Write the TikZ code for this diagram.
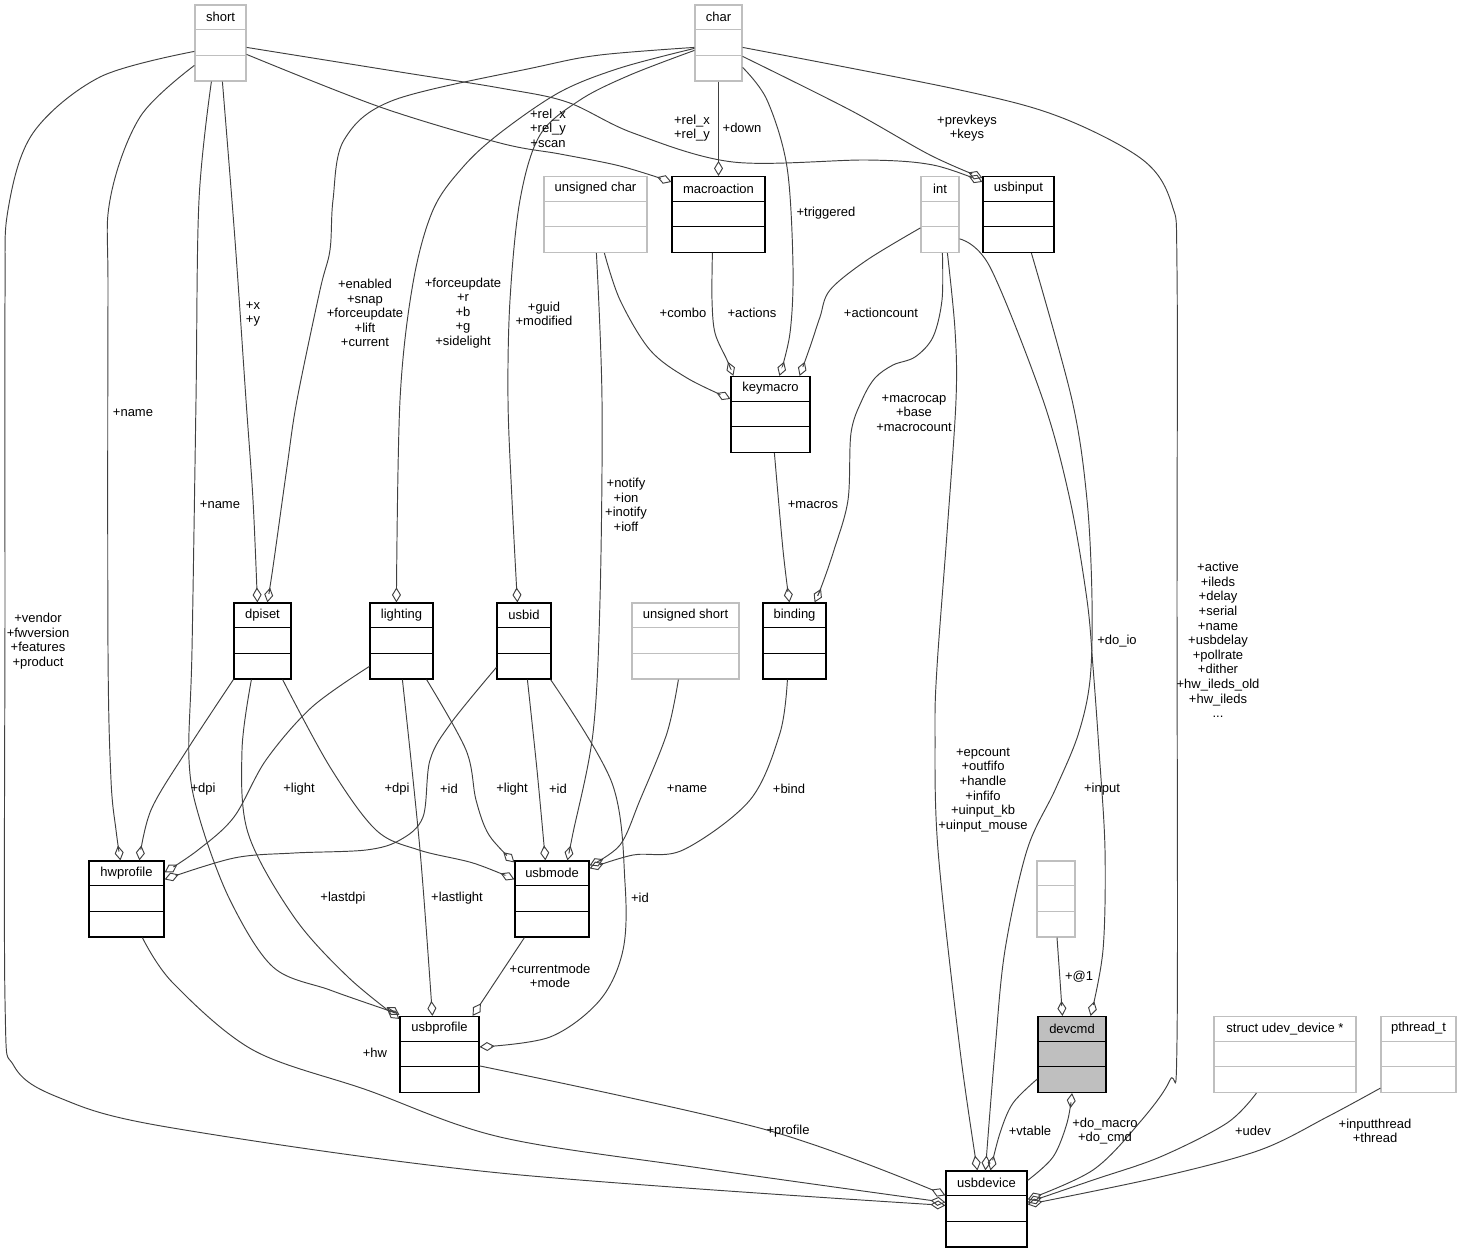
\documentclass[tikz,border=0pt]{standalone}
\usepackage{fontspec}
\setmainfont{Liberation Sans}
\usetikzlibrary{arrows.meta,calc}
\definecolor{edgec}{HTML}{404040}
\definecolor{greyb}{HTML}{BFBFBF}
\tikzset{
  bbox/.style={draw=black, line width=1.2pt, fill=white, inner sep=0pt},
  gbox/.style={draw=greyb, line width=1.2pt, fill=white, inner sep=0pt},
  dbox/.style={draw=black, line width=1.2pt, fill=greyb, inner sep=0pt},
  lbl/.style={inner sep=0pt, align=center, font=\fontsize{13}{14.6}\selectfont},
  edge/.style={draw=edgec, line width=0.95pt, -{Diamond[open, length=15pt, width=9pt]}},
}
% name, cx, cy, width, label, box style, line colour
\newcommand\umlclass[7]{%
  \node[#6, minimum width=#4, minimum height=76] (#1) at (#2,#3) {};
  \draw[#7, line width=1.2pt] ($(#1.north west)+(0,25.3)$) -- ($(#1.north east)+(0,25.3)$);
  \draw[#7, line width=1.2pt] ($(#1.north west)+(0,50.7)$) -- ($(#1.north east)+(0,50.7)$);
  \node[lbl] (#1-name) at ($(#1.north)+(0,12.7)$) {#5};
}
\begin{document}
\begin{tikzpicture}[x=1pt,y=-1pt]
\useasboundingbox (0,0) rectangle (1463,1253);
% ---------- classes ----------
\umlclass{short}{220.5}{43}{51}{short}{gbox}{greyb}
\umlclass{char}{718.5}{43}{47}{char}{gbox}{greyb}
\umlclass{uchar}{595.5}{214.5}{103}{unsigned char}{gbox}{greyb}
\umlclass{macroaction}{718.5}{214.5}{93}{macroaction}{bbox}{black}
\umlclass{int}{940}{214.5}{38}{int}{gbox}{greyb}
\umlclass{usbinput}{1018.5}{214.5}{71}{usbinput}{bbox}{black}
\umlclass{keymacro}{770.5}{414.5}{79}{keymacro}{bbox}{black}
\umlclass{dpiset}{262.5}{641}{57}{dpiset}{bbox}{black}
\umlclass{lighting}{401.5}{641}{63}{lighting}{bbox}{black}
\umlclass{usbid}{524}{641}{54}{usbid}{bbox}{black}
\umlclass{ushort}{685.5}{641}{107}{unsigned short}{gbox}{greyb}
\umlclass{binding}{794.5}{641}{63}{binding}{bbox}{black}
\umlclass{hwprofile}{126.5}{899}{75}{hwprofile}{bbox}{black}
\umlclass{usbmode}{552}{899}{74}{usbmode}{bbox}{black}
\umlclass{anon}{1056}{899}{38}{}{gbox}{greyb}
\umlclass{usbprofile}{439.5}{1054.5}{79}{usbprofile}{bbox}{black}
\umlclass{devcmd}{1072}{1054.5}{68}{devcmd}{dbox}{black}
\umlclass{udev}{1285}{1054.5}{142}{struct udev\_device *}{gbox}{greyb}
\umlclass{pthread}{1418.5}{1054.5}{75}{pthread\_t}{gbox}{greyb}
\umlclass{usbdevice}{986.5}{1209}{81}{usbdevice}{bbox}{black}
% ---------- connectors ----------
% short
\draw[edge] plot[smooth,tension=0.55] coordinates {($(short.north west)+(0,47)$) (100,77) (33,133) (8,210) (5,300) (5,600) (5,1000) (14,1066) (60,1098) (167,1127) (500,1173) ($(usbdevice.north west)+(0,35)$)};
\draw[edge] plot[smooth,tension=0.55] coordinates {($(short.north west)+(0,61)$) (140,117) (110,200) (108,300) (108,650) (111,780) (116,830) ($(hwprofile.north west)+(32,0)$)};
\draw[edge] plot[smooth,tension=0.55] coordinates {($(short.south west)+(17,0)$) (199,200) (196,400) (192,650) (189,760) (200,820) (230,900) (273,967) (330,990) (387,1010) ($(usbprofile.north west)+(0,-1)$)};
\draw[edge] plot[smooth,tension=0.55] coordinates {($(short.south west)+(28,0)$) (235,240) (246,400) (253,500) ($(dpiset.north west)+(24,0)$)};
\draw[edge] plot[smooth,tension=0.55] coordinates {($(short.north east)+(0,50)$) (380,107) (500,143) (560,154) (620,166) ($(macroaction.north west)+(0,6)$)};
\draw[edge] plot[smooth,tension=0.55] coordinates {($(short.north east)+(0,43)$) (400,72) (500,88) (567,102) (633,133) (733,162) (867,160) (933,165) ($(usbinput.north west)+(0,6)$)};
% char
\draw[edge] plot[smooth,tension=0.55] coordinates {($(char.north west)+(0,43)$) (600,55) (537,67) (394,100) (344,140) (333,200) (330,250) (320,290) (297,400) (287,467) (273,567) ($(dpiset.north west)+(34,0)$)};
\draw[edge] plot[smooth,tension=0.55] coordinates {($(char.north west)+(0,44)$) (620,68) (560,92) (500,133) (463,167) (433,210) (413,283) (400,400) ($(lighting.north west)+(27,0)$)};
\draw[edge] plot[smooth,tension=0.55] coordinates {($(char.north west)+(0,46)$) (630,75) (580,100) (540,135) (520,200) (510,300) (508,400) (512,500) ($(usbid.north west)+(21,0)$)};
\draw[edge] plot[smooth,tension=0.55] coordinates {($(char.north east)+(0,52)$) (850,110) (930,155) ($(usbinput.north west)+(0,2)$)};
\draw[edge] (char.south) -- (macroaction.north);
\draw[edge] plot[smooth,tension=0.55] coordinates {($(char.north east)+(0,63)$) (767,100) (787,167) (793,267) (790,333) ($(keymacro.north west)+(49,0)$)};
\draw[edge] plot[smooth,tension=0.55] coordinates {($(char.north east)+(0,43)$) (960,90) (1060,117) (1143,160) (1172,205) (1177,270) (1177,600) (1177,1040) (1170,1080) (1140,1122) (1093,1170) ($(usbdevice.north east)+(0,29)$)};
% int
\draw[edge] plot[smooth,tension=0.55] coordinates {($(int.north west)+(0,52)$) (867,260) (830,290) (820,317) (810,347) ($(keymacro.north east)+(-11,0)$)};
\draw[edge] plot[smooth,tension=0.55] coordinates {($(int.south west)+(22,0)$) (942,300) (933,337) (915,357) (893,365) (875,378) (862,400) (851,433) (848,500) (834,550) (822,585) ($(binding.north east)+(-12,0)$)};
\draw[edge] plot[smooth,tension=0.55] coordinates {($(int.south west)+(27,0)$) (955,330) (956,400) (947,533) (937,667) (935,733) (938,850) (960,1050) ($(usbdevice.north west)+(32,0)$)};
\draw[edge] plot[smooth,tension=0.55] coordinates {($(int.north east)+(0,63)$) (990,267) (1043,400) (1070,500) (1087,600) (1093,667) (1099,750) (1105,850) (1103,950) ($(devcmd.north east)+(-16,0)$)};
% usbinput
\draw[edge] plot[smooth,tension=0.55] coordinates {($(usbinput.south west)+(49,0)$) (1072,400) (1087,500) (1092,600) (1090,680) (1078,735) (1055,790) (1027,850) (1005,950) (995,1050) ($(usbdevice.north west)+(40,0)$)};
% devcmd / usbdevice
\draw[edge] plot[smooth,tension=0.55] coordinates {($(devcmd.north west)+(0,63)$) (1013,1103) (1000,1133) ($(usbdevice.north west)+(45,0)$)};
\draw[edge] plot[smooth,tension=0.55] coordinates {($(usbdevice.north east)+(0,10)$) (1053,1157) (1067,1123) (devcmd.south)};
\draw[edge] plot[smooth,tension=0.55] coordinates {($(anon.south)+(1,0)$) (1060,980) ($(devcmd.north west)+(25,0)$)};
\draw[edge] plot[smooth,tension=0.55] coordinates {($(udev.south west)+(43,0)$) (1227,1123) (1160,1157) (1093,1180) ($(usbdevice.north east)+(0,32)$)};
\draw[edge] plot[smooth,tension=0.55] coordinates {($(pthread.south west)+(0,-5)$) (1327,1117) (1260,1150) (1160,1177) ($(usbdevice.north east)+(0,34)$)};
% unsigned char
\draw[edge] plot[smooth,tension=0.55] coordinates {($(uchar.south west)+(61,0)$) (620,300) (650,350) (687,378) ($(keymacro.north west)+(0,23)$)};
\draw[edge] plot[smooth,tension=0.55] coordinates {($(uchar.south west)+(53,0)$) (602,400) (600,600) (593,733) (573,833) ($(usbmode.north west)+(53,0)$)};
% macroaction, keymacro
\draw[edge] plot[smooth,tension=0.55] coordinates {($(macroaction.south west)+(41,0)$) (712,300) (715,333) (727,360) ($(keymacro.north west)+(3,0)$)};
\draw[edge] plot[smooth,tension=0.55] coordinates {($(keymacro.south west)+(44,0)$) (783,550) ($(binding.north west)+(27,0)$)};
% unsigned short, binding
\draw[edge] plot[smooth,tension=0.55] coordinates {($(ushort.south west)+(47,0)$) (667,733) (640,800) (620,845) ($(usbmode.north east)+(0,5)$)};
\draw[edge] plot[smooth,tension=0.55] coordinates {($(binding.south west)+(25,0)$) (780,733) (750,800) (683,850) (633,855) ($(usbmode.north east)+(0,8)$)};
% usbid
\draw[edge] plot[smooth,tension=0.55] coordinates {($(usbid.south west)+(31,0)$) (537,770) ($(usbmode.north west)+(31,0)$)};
\draw[edge] plot[smooth,tension=0.55] coordinates {($(usbid.north west)+(0,65)$) (451,723) (430,760) (423,817) (400,840) (366,850) (294,853) (234,858) ($(hwprofile.north east)+(0,19)$)};
\draw[edge] plot[smooth,tension=0.55] coordinates {($(usbid.south east)+(-1,0)$) (612,783) (625,883) (623,950) (600,1000) (550,1037) ($(usbprofile.north east)+(0,31)$)};
% lighting
\draw[edge] plot[smooth,tension=0.55] coordinates {($(lighting.north west)+(0,64)$) (312,707) (266,760) (234,817) (198,850) ($(hwprofile.north east)+(0,12)$)};
\draw[edge] plot[smooth,tension=0.55] coordinates {($(lighting.south west)+(33,0)$) (420,850) ($(usbprofile.north west)+(33,0)$)};
\draw[edge] plot[smooth,tension=0.55] coordinates {($(lighting.south east)+(-7,0)$) (466,750) (476,800) (489,835) ($(usbmode.north west)+(0,2)$)};
% dpiset
\draw[edge] plot[smooth,tension=0.55] coordinates {(dpiset.south west) (187,750) (151,810) ($(hwprofile.north west)+(51,0)$)};
\draw[edge] plot[smooth,tension=0.55] coordinates {($(dpiset.south west)+(18,0)$) (242,750) (248,833) (294,917) (348,977) ($(usbprofile.north west)+(0,3)$)};
\draw[edge] plot[smooth,tension=0.55] coordinates {($(dpiset.south east)+(-9,0)$) (330,767) (376,830) (419,850) (473,863) ($(usbmode.north west)+(0,19)$)};
% usbmode, hwprofile, usbprofile
\draw[edge] ($(usbmode.south west)+(10,0)$) -- ($(usbprofile.north east)+(-7,0)$);
\draw[edge] plot[smooth,tension=0.55] coordinates {($(hwprofile.south west)+(54,0)$) (173,983) (253,1050) (367,1090) (500,1137) (700,1168) ($(usbdevice.north west)+(0,32)$)};
\draw[edge] plot[smooth,tension=0.55] coordinates {($(usbprofile.north east)+(0,50)$) (767,1130) ($(usbdevice.north west)+(0,25)$)};
% ---------- labels ----------
\node[lbl] (t1) at (38,641) {+vendor\\+fwversion\\+features\\+product};
\node[lbl] (t2) at (133,413) {+name};
\node[lbl] (t3) at (220,505) {+name};
\node[lbl] (t4) at (253,314) {+x\\+y};
\node[lbl] (t5) at (365,313) {+enabled\\+snap\\+forceupdate\\+lift\\+current};
\node[lbl] (t6) at (463,313) {+forceupdate\\+r\\+b\\+g\\+sidelight};
\node[lbl] (t7) at (544,314) {+guid\\+modified};
\node[lbl] (t8) at (548,128) {+rel\_x\\+rel\_y\\+scan};
\node[lbl] (t9) at (692,128) {+rel\_x\\+rel\_y};
\node[lbl] (t10) at (742,128) {+down};
\node[lbl] (t11) at (967,128) {+prevkeys\\+keys};
\node[lbl] (t12) at (826,213) {+triggered};
\node[lbl] (t13) at (683,313) {+combo};
\node[lbl] (t14) at (752,313) {+actions};
\node[lbl] (t15) at (881,313) {+actioncount};
\node[lbl] (t16) at (914,413) {+macrocap\\+base\\+macrocount};
\node[lbl] (t17) at (626,505) {+notify\\+ion\\+inotify\\+ioff};
\node[lbl] (t18) at (813,505) {+macros};
\node[lbl] (t19) at (1218,640) {+active\\+ileds\\+delay\\+serial\\+name\\+usbdelay\\+pollrate\\+dither\\+hw\_ileds\_old\\+hw\_ileds\\...};
\node[lbl] (t20) at (1117,641) {+do\_io};
\node[lbl] (t21) at (983,790) {+epcount\\+outfifo\\+handle\\+infifo\\+uinput\_kb\\+uinput\_mouse};
\node[lbl] (t22) at (1102,789) {+input};
\node[lbl] (t23) at (203,789) {+dpi};
\node[lbl] (t24) at (299,789) {+light};
\node[lbl] (t25) at (397,789) {+dpi};
\node[lbl] (t26) at (449,789) {+id};
\node[lbl] (t27) at (512,789) {+light};
\node[lbl] (t28) at (558,789) {+id};
\node[lbl] (t29) at (687,789) {+name};
\node[lbl] (t30) at (789,789) {+bind};
\node[lbl] (t31) at (343,898) {+lastdpi};
\node[lbl] (t32) at (457,898) {+lastlight};
\node[lbl] (t33) at (640,898) {+id};
\node[lbl] (t34) at (550,976) {+currentmode\\+mode};
\node[lbl] (t35) at (1079,977) {+@1};
\node[lbl] (t36) at (375,1053) {+hw};
\node[lbl] (t37) at (788,1131) {+profile};
\node[lbl] (t38) at (1030,1131) {+vtable};
\node[lbl] (t39) at (1105,1131) {+do\_macro\\+do\_cmd};
\node[lbl] (t40) at (1253,1131) {+udev};
\node[lbl] (t41) at (1375,1131) {+inputthread\\+thread};
\end{tikzpicture}
\end{document}
